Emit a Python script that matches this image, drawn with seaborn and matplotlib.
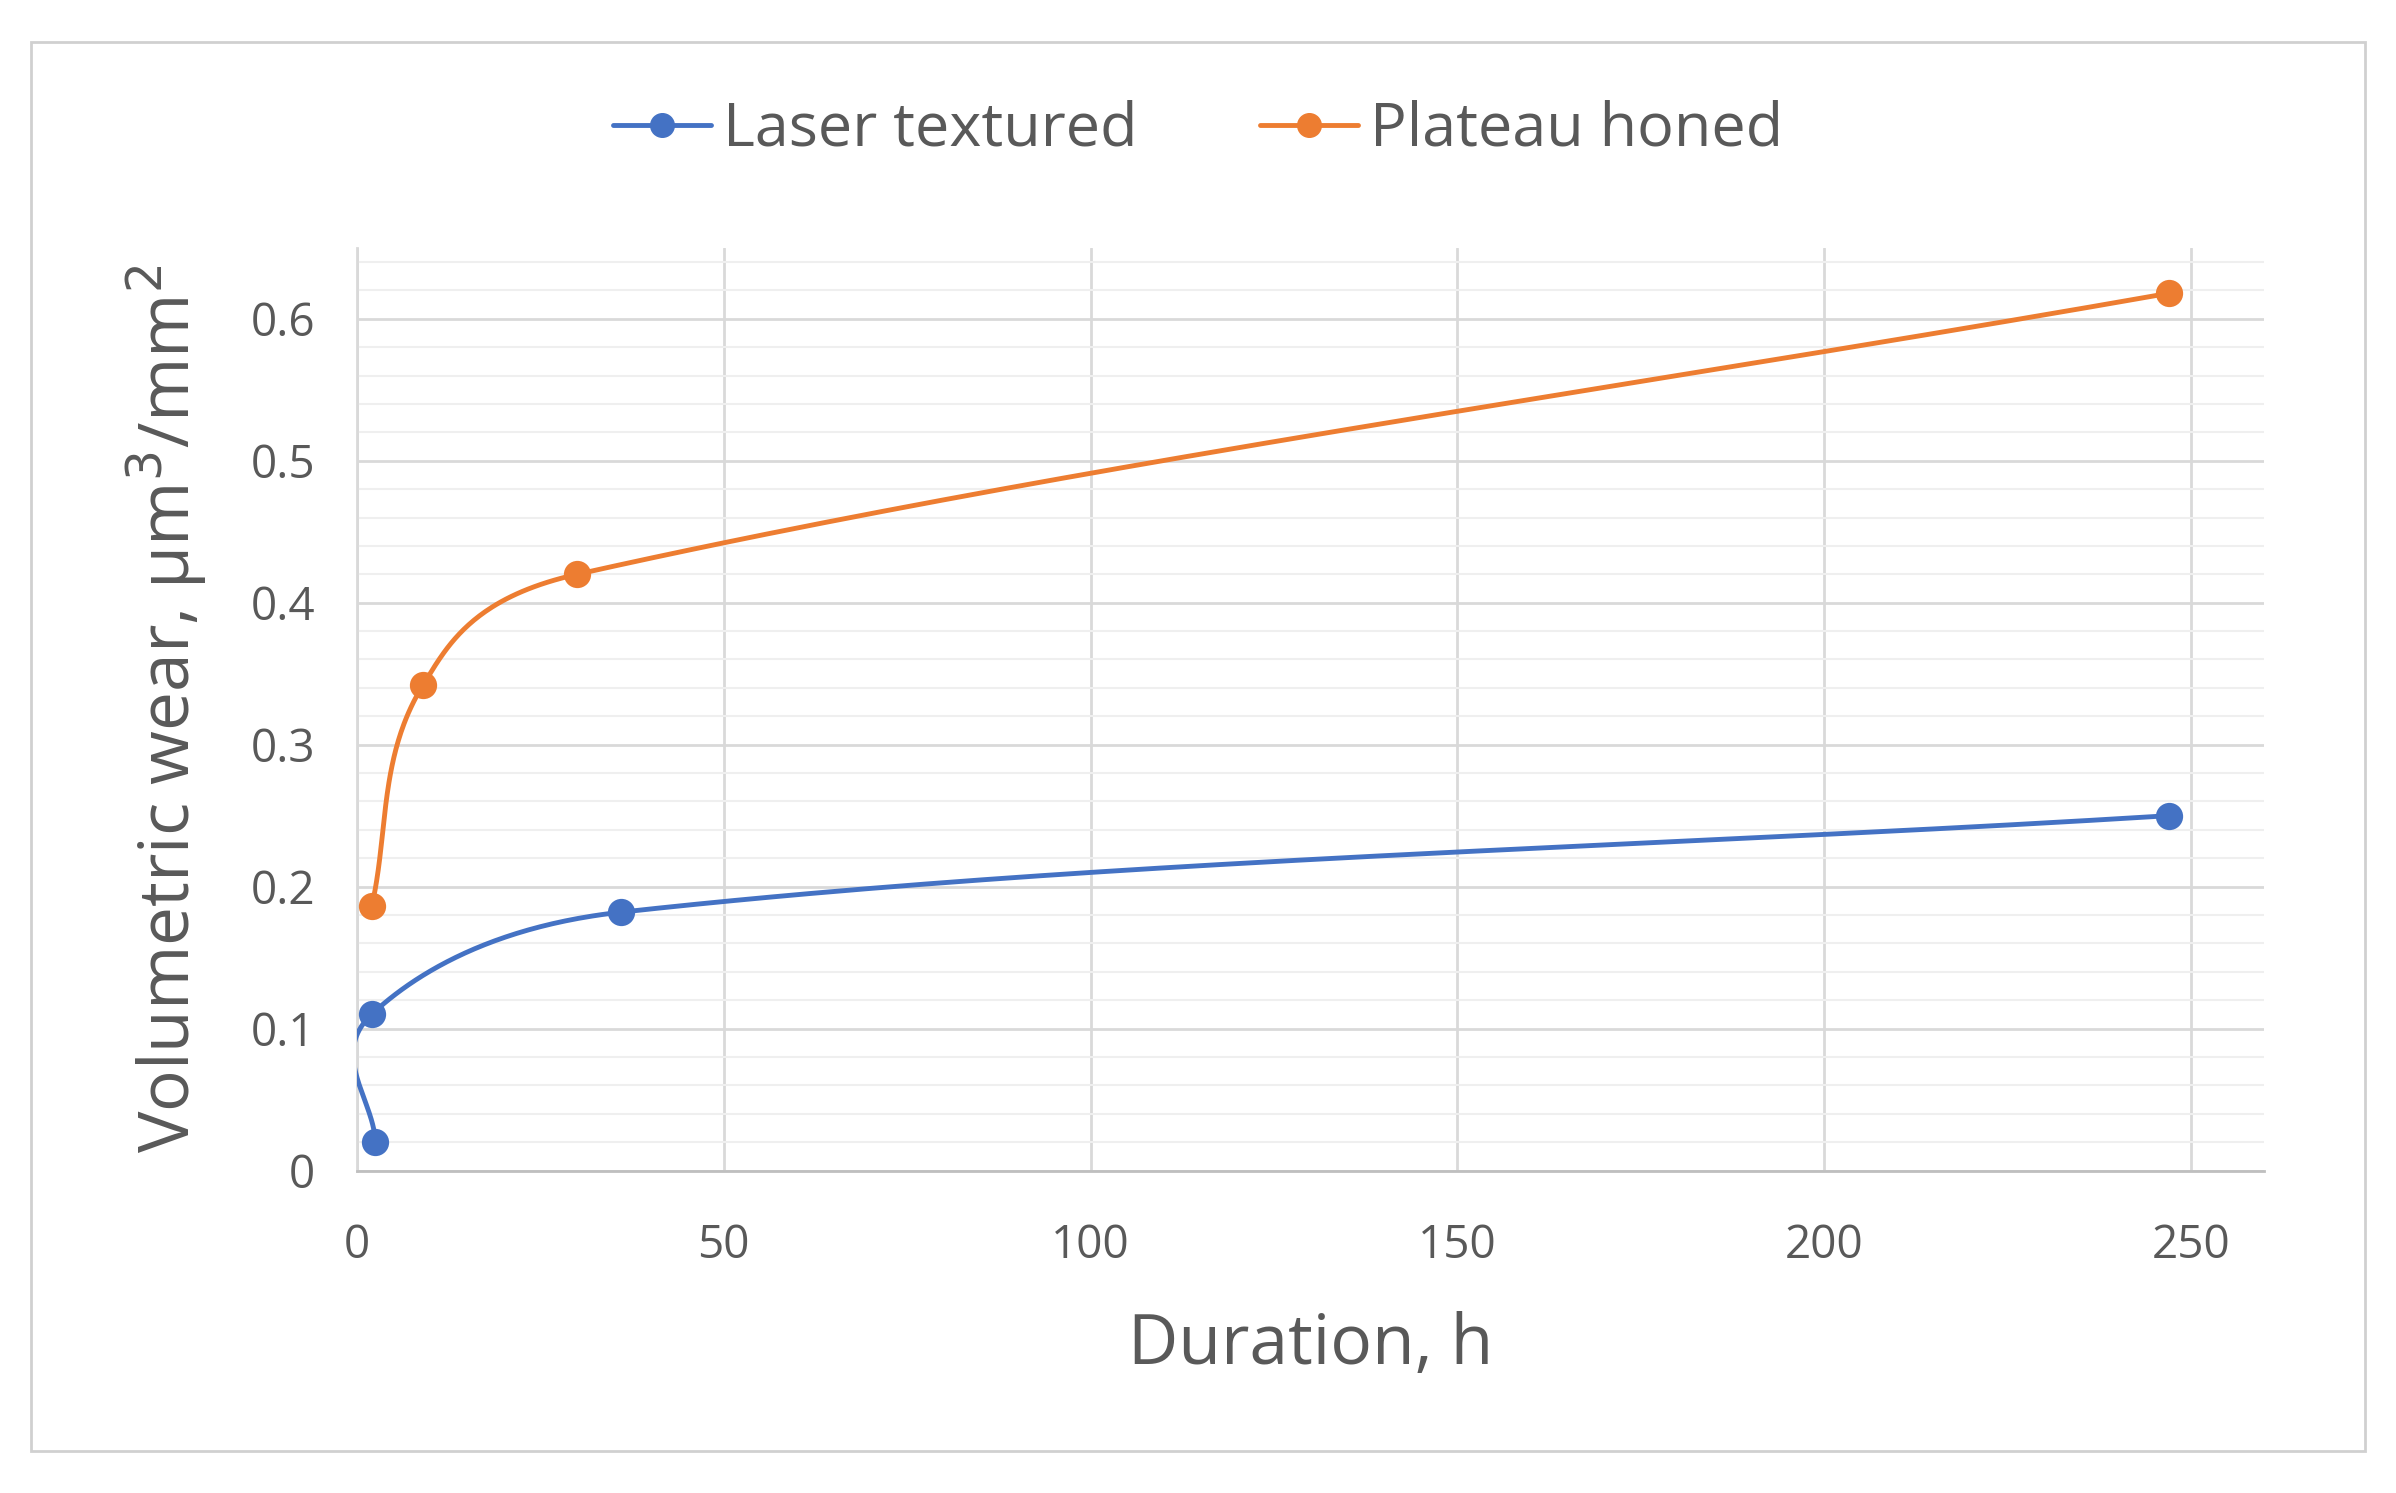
import numpy as np
import seaborn as sns
import matplotlib
import matplotlib.pyplot as plt
from matplotlib.patches import Rectangle

matplotlib.use('Agg')
sns.set_style("white")
plt.rcParams['font.family'] = ['Open Sans', 'DejaVu Sans']

# Datos
laser_x = [2.5, 2.0, 36.0, 247.0]
laser_y = [0.02, 0.11, 0.182, 0.25]
plateau_x = [2.0, 9.0, 30.0, 247.0]
plateau_y = [0.186, 0.342, 0.42, 0.618]

azul = '#4472C4'
naranja = '#ED7D31'


def suavizar(xs, ys, n=80):
    # curva suavizada tipo Excel: Bezier con tangente unitaria y longitud segun el tramo
    p = np.column_stack([xs, ys]).astype(float)
    escala = np.array([1 / 260.0, 1.6 / 0.65])
    q = p * escala
    m = len(q)
    tang = []
    for i in range(m):
        a = q[i - 1] if i > 0 else q[i]
        b = q[i + 1] if i + 1 < m else q[i]
        d = b - a
        tang.append(d / np.linalg.norm(d))
    pts = []
    for i in range(m - 1):
        p1, p2 = q[i], q[i + 1]
        L = np.linalg.norm(p2 - p1)
        c1 = p1 + tang[i] * L * 0.33
        c2 = p2 - tang[i + 1] * L * 0.33
        t = np.linspace(0, 1, n)[:, None]
        seg = (1 - t) ** 3 * p1 + 3 * (1 - t) ** 2 * t * c1 + 3 * (1 - t) * t ** 2 * c2 + t ** 3 * p2
        pts.append(seg)
    c = np.vstack(pts) / escala
    return c[:, 0], c[:, 1]


fig = plt.figure(figsize=(23.96, 14.93), dpi=100)
fig.patches.append(Rectangle((0.013, 0.028), 0.974, 0.944, transform=fig.transFigure,
                             fill=False, edgecolor='#D0D0D0', linewidth=2))
ax = fig.add_axes([0.149, 0.216, 0.796, 0.618])

for xs, ys, col, nombre in [(laser_x, laser_y, azul, 'Laser textured'),
                            (plateau_x, plateau_y, naranja, 'Plateau honed')]:
    cx, cy = suavizar(xs, ys)
    ax.plot(cx, cy, color=col, linewidth=3.5, zorder=3)
    sns.scatterplot(x=xs, y=ys, color=col, s=330, edgecolor=col, ax=ax, zorder=4, legend=False)
    ax.plot([], [], color=col, linewidth=3.5, marker='o', markersize=17, label=nombre)

ax.set_xlim(0, 260)
ax.set_ylim(0, 0.65)
ax.set_xticks([0, 50, 100, 150, 200, 250])
ax.set_yticks([0, 0.1, 0.2, 0.3, 0.4, 0.5, 0.6])
ax.set_yticklabels(['0', '0.1', '0.2', '0.3', '0.4', '0.5', '0.6'])
ax.set_yticks(np.arange(0, 0.651, 0.02), minor=True)
ax.grid(which='major', color='#D9D9D9', linewidth=2)
ax.grid(which='minor', axis='y', color='#EFEFEF', linewidth=1.5)
ax.set_axisbelow(True)
for lado in ['top', 'right']:
    ax.spines[lado].set_visible(False)
ax.spines['left'].set_color('#D9D9D9')
ax.spines['bottom'].set_color('#BFBFBF')
ax.spines['left'].set_linewidth(2)
ax.spines['bottom'].set_linewidth(2)
ax.tick_params(axis='both', labelsize=33, colors='#595959', length=0)
ax.tick_params(axis='x', pad=38)
ax.tick_params(axis='y', pad=30)

ax.set_xlabel('Duration, h', fontsize=50, color='#595959', labelpad=30)
ax.set_ylabel('Volumetric wear, µm$^3$/mm$^2$', fontsize=50, color='#595959', labelpad=30)

fig.legend(loc='center', bbox_to_anchor=(0.5, 0.913), ncol=2, frameon=False,
           fontsize=44, labelcolor='#595959', handlelength=1.6, handletextpad=0.2,
           columnspacing=2.0)

plt.savefig('out.png', dpi=100)
plt.close()
